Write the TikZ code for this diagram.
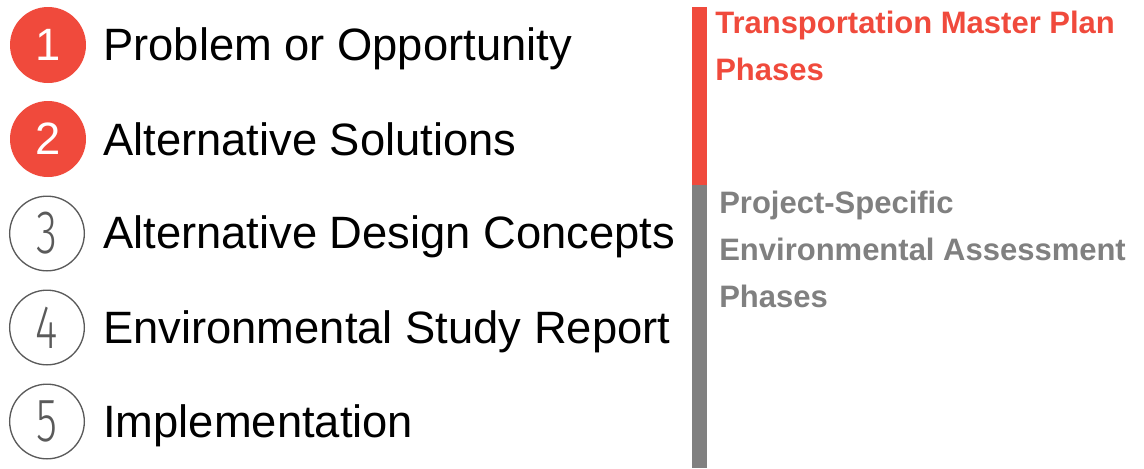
\documentclass[tikz,border=0pt]{standalone}
\usepackage{fontspec}
\setmainfont{Liberation Sans}
\newfontfamily\numfont{Fira Sans}[UprightFont={* Light}]
\usepackage{tikz}

\definecolor{phasered}{RGB}{240,74,60}
\definecolor{phasegray}{RGB}{128,128,128}
\definecolor{ringgray}{RGB}{90,90,90}

\tikzset{
  doneball/.style={circle, fill=phasered, draw=none, minimum size=57pt, inner sep=0pt,
    text=white, font=\fontsize{34}{40}\selectfont},
  openball/.style={circle, draw=ringgray, line width=1pt, minimum size=56pt, inner sep=0pt,
    text=ringgray, font=\numfont\fontsize{46}{50}\selectfont},
  steplabel/.style={anchor=base west, inner sep=0pt, font=\fontsize{34}{40}\selectfont},
  phasetext/.style={anchor=base west, inner sep=0pt, font=\fontsize{23.25}{28}\selectfont\bfseries}
}

\begin{document}
\begin{tikzpicture}[x=0.75pt, y=-0.75pt]
\useasboundingbox (0,0) rectangle (1144,468);

% Numbered steps
\node[doneball] (n1) at (48,45) {1};
\node[doneball] (n2) at (48,139) {2};
\node[openball] (n3) at (47,233.5) {\scalebox{0.7}[1]{3}};
\node[openball] (n4) at (47,327.5) {\scalebox{0.7}[1]{4}};
\node[openball] (n5) at (47,421.5) {\scalebox{0.7}[1]{5}};

% Step names
\node[steplabel] (s1) at (103,60) {Problem or Opportunity};
\node[steplabel] (s2) at (103,155) {Alternative Solutions};
\node[steplabel] (s3) at (103,248) {Alternative Design Concepts};
\node[steplabel] (s4) at (103,343) {Environmental Study Report};
\node[steplabel] (s5) at (103,437) {Implementation};

% Phase bars
\fill[phasered] (692,7) rectangle (707,185);
\fill[phasegray] (692,185) rectangle (707,468);

% Master plan phases
\node[phasetext, text=phasered] (tmp1) at (715,33) {Transportation Master Plan};
\node[phasetext, text=phasered] (tmp2) at (715,80) {Phases};

% Environmental assessment phases
\node[phasetext, text=phasegray] (ea1) at (719,213) {Project-Specific};
\node[phasetext, text=phasegray] (ea2) at (719,260) {Environmental Assessment};
\node[phasetext, text=phasegray] (ea3) at (719,307) {Phases};
\end{tikzpicture}
\end{document}
